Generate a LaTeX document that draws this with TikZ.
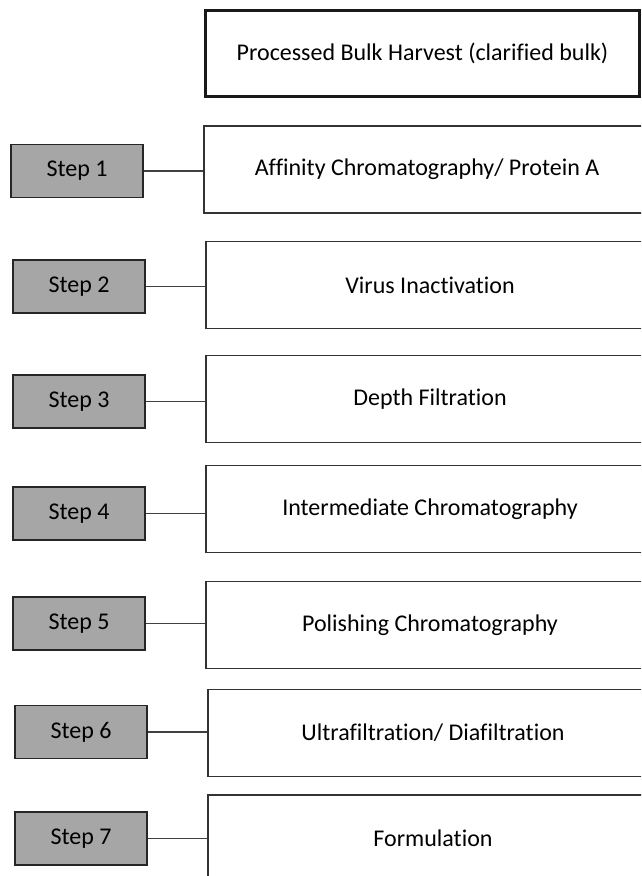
\documentclass[tikz,border=0pt]{standalone}
\usepackage{fontspec}
\setmainfont[Ligatures={NoCommon,NoRequired,NoContextual,NoRare,NoDiscretionary}]{Carlito}
\begin{document}
\begin{tikzpicture}[x=1pt,y=-1pt,
  stepbox/.style={draw=black!85,fill=black!35,line width=1.6pt,minimum width=132pt,minimum height=53pt,inner sep=0pt,font=\fontsize{24}{28}\selectfont},
  procbox/.style={draw=black!80,fill=white,line width=1.5pt,minimum height=87pt,inner sep=0pt,font=\fontsize{24}{28}\selectfont},
  topbox/.style={draw=black!90,fill=white,line width=3pt,minimum width=434pt,minimum height=86pt,inner sep=0pt,font=\fontsize{24}{28}\selectfont},
  link/.style={draw=black!75,line width=1.5pt}]
\useasboundingbox (0,0) rectangle (641,876);
\clip (0,0) rectangle (641,876);
\fill[white] (0,0) rectangle (641,876);
\node[topbox] (top) at (422.5,53.5) {Processed Bulk Harvest (clarified bulk)};
\node[procbox,minimum width=446pt] (p1) at (427,169.5) {Affinity Chromatography/ Protein A};
\node[procbox,minimum width=448pt] (p2) at (430,285) {Virus Inactivation};
\node[procbox,minimum width=448pt] (p3) at (430,399) {Depth Filtration};
\node[procbox,minimum width=448pt] (p4) at (430,509) {Intermediate Chromatography};
\node[procbox,minimum width=448pt] (p5) at (430,625) {Polishing Chromatography};
\node[procbox,minimum width=450pt] (p6) at (433,733) {Ultrafiltration/ Diafiltration};
\node[procbox,minimum width=450pt,minimum height=130pt] (p7) at (433,860) {};
\node[font=\fontsize{24}{28}\selectfont] (t7) at (433,838) {Formulation};
\node[stepbox] (s1) at (77,171) {Step 1};
\node[stepbox] (s2) at (79,286.5) {Step 2};
\node[stepbox] (s3) at (79,401.5) {Step 3};
\node[stepbox] (s4) at (79,513.5) {Step 4};
\node[stepbox] (s5) at (79,623.5) {Step 5};
\node[stepbox] (s6) at (81,732) {Step 6};
\node[stepbox] (s7) at (81,838.5) {Step 7};
\foreach \i in {1,...,7} {\draw[link] (s\i.east) -- (s\i.east -| p\i.west);}
\end{tikzpicture}
\end{document}
